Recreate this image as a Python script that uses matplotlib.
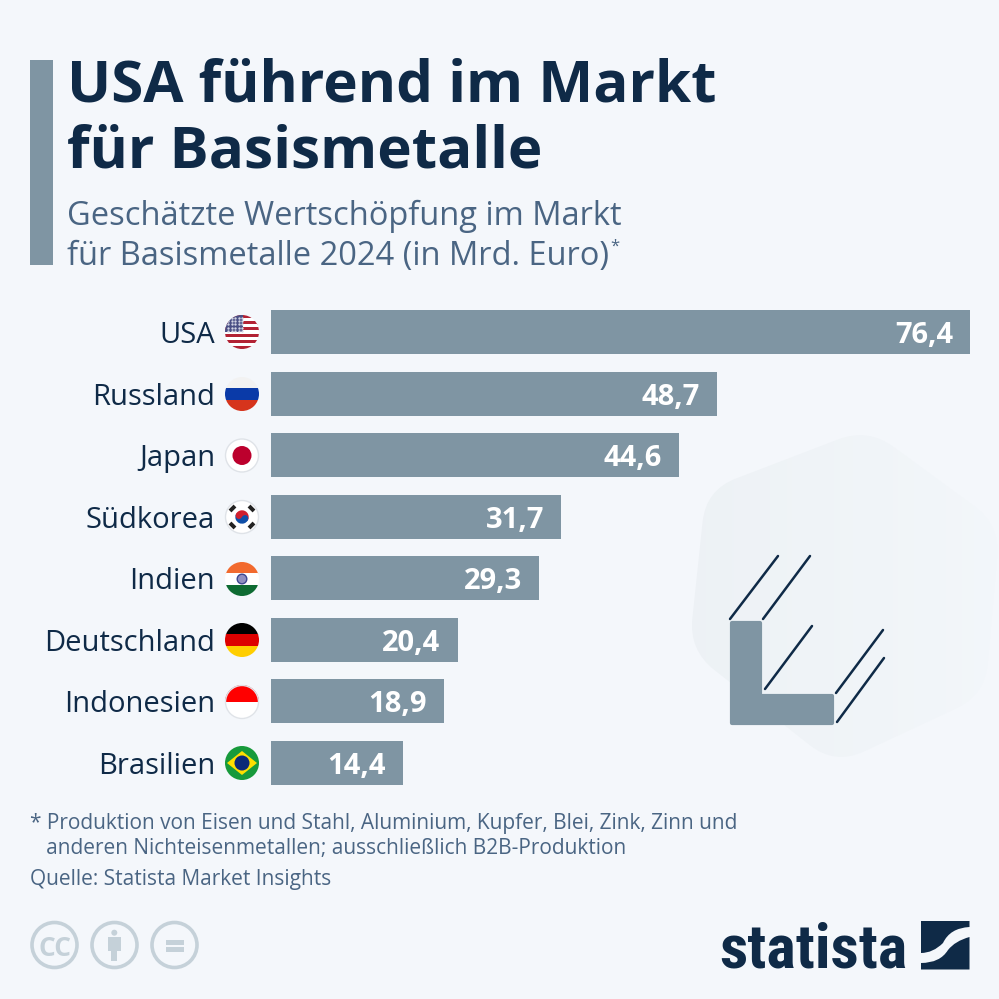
import matplotlib
matplotlib.use("Agg")
import matplotlib.pyplot as plt
import numpy as np
from matplotlib import font_manager
from matplotlib.patches import Circle, PathPatch, Polygon, Rectangle, Wedge
from matplotlib.path import Path

countries = ["USA", "Russland", "Japan", "Südkorea", "Indien", "Deutschland", "Indonesien", "Brasilien"]
values = [76.4, 48.7, 44.6, 31.7, 29.3, 20.4, 18.9, 14.4]

title_lines = ["USA führend im Markt", "für Basismetalle"]
subtitle_lines = ["Geschätzte Wertschöpfung im Markt", "für Basismetalle 2024 (in Mrd. Euro)"]
note_lines = ["* Produktion von Eisen und Stahl, Aluminium, Kupfer, Blei, Zink, Zinn und",
              "   anderen Nichteisenmetallen; ausschließlich B2B-Produktion"]
source = "Quelle: Statista Market Insights"

BG = "#f4f7fb"
BAR = "#7f95a3"
NAVY = "#0f2a47"
SUB = "#4a6583"
LIGHT = "#c5d1d9"
EDGE = "#dfe3e8"

plt.rcParams["font.family"] = ["Open Sans", "DejaVu Sans"]

fig = plt.figure(figsize=(9.99, 9.99), dpi=100, facecolor=BG)

# background layer in pixel coordinates
bg = fig.add_axes([0, 0, 1, 1])
bg.set_xlim(0, 999)
bg.set_ylim(999, 0)
bg.axis("off")


def rounded_polygon(points, radius):
    verts = []
    codes = []
    n = len(points)
    for i in range(n):
        p = np.array(points[i], dtype=float)
        a = np.array(points[i - 1], dtype=float)
        b = np.array(points[(i + 1) % n], dtype=float)
        p1 = p + (a - p) / np.linalg.norm(a - p) * radius
        p2 = p + (b - p) / np.linalg.norm(b - p) * radius
        verts.append(p1)
        codes.append(Path.MOVETO if i == 0 else Path.LINETO)
        verts.append(p)
        codes.append(Path.CURVE3)
        verts.append(p2)
        codes.append(Path.CURVE3)
    verts.append(verts[0])
    codes.append(Path.CLOSEPOLY)
    return Path(verts, codes)


# hexagon behind the icon, fades out to the right
hexagon = PathPatch(rounded_polygon([(868, 428), (706, 490), (689, 650), (835, 765), (985, 695), (1000, 525)], 32),
                    facecolor="none", edgecolor="none")
bg.add_patch(hexagon)
gradient = np.linspace(0, 1, 256).reshape(1, -1, 1)
start = np.array([0.93, 0.948, 0.962])
end = np.array([0.953, 0.967, 0.982])
bg.imshow(start + (end - start) * gradient, extent=(689, 1000, 765, 428), aspect="auto", clip_path=hexagon, zorder=1)
bg.set_xlim(0, 999)
bg.set_ylim(999, 0)

# title block
bg.add_patch(Rectangle((30, 60), 23, 205, color=BAR, lw=0))
for i, line in enumerate(title_lines):
    bg.text(67, 101.5 + i * 66, line, fontsize=42, fontweight="bold", color=NAVY, va="baseline")
for i, line in enumerate(subtitle_lines):
    bg.text(67, 225 + i * 40, line, fontsize=23.5, color=SUB, va="baseline")
bg.text(610, 251, "*", fontsize=12, color=SUB, va="baseline")

# icon
bg.add_patch(Polygon([(732, 623), (760, 623), (760, 696), (832, 696), (832, 723), (732, 723)],
                     facecolor=BAR, edgecolor=BAR, lw=3, joinstyle="round", zorder=2))
icon_lines = [((730, 619), (778, 556)), ((763, 619), (810, 556)), ((765, 689), (812, 626)),
              ((836, 693), (883, 630)), ((837, 722), (884, 658))]
for p, q in icon_lines:
    bg.plot([p[0], q[0]], [p[1], q[1]], color=NAVY, lw=1.8, solid_capstyle="round", zorder=2)

# bars
ax = fig.add_axes([271 / 999, 1 - 793.8 / 999, 699 / 999, 492.6 / 999], zorder=2)
ax.patch.set_visible(False)
y = np.arange(len(countries))
ax.barh(y, values, height=44 / 61.6, color=BAR)
ax.set_xlim(0, 76.4)
ax.set_ylim(7.5, -0.5)
ax.set_yticks(y)
ax.set_yticklabels(countries, fontsize=21, color=NAVY)
ax.tick_params(axis="y", length=0, pad=40.3)
ax.set_xticks([])
for side in ax.spines.values():
    side.set_visible(False)
for yi, v in zip(y, values):
    ax.annotate(f"{v:.1f}".replace(".", ","), (v, yi), xytext=(-12.3, 0), textcoords="offset points",
                ha="right", va="center_baseline", color="white", fontsize=21, fontweight="bold")


# flags, all clipped to a circle of radius 17 px
def flag_patch(patch, clip):
    bg.add_patch(patch)
    patch.set_clip_path(clip)


def stripes(cy, colors):
    clip = Circle((242, cy), 17, facecolor="none", edgecolor="none", transform=bg.transData)
    bg.add_patch(clip)
    h = 34 / len(colors)
    for i, c in enumerate(colors):
        flag_patch(Rectangle((225, cy - 17 + i * h), 34, h + 0.3, color=c, lw=0), clip)
    return clip


def ring(cy):
    bg.add_patch(Circle((242, cy), 16.5, facecolor="none", edgecolor=EDGE, lw=1))


flag_y = [332, 394, 455.5, 517, 579, 640, 702, 763]

# USA
clip = stripes(flag_y[0], ["#b22234" if i % 2 == 0 else "white" for i in range(11)])
flag_patch(Rectangle((225, flag_y[0] - 17), 18, 17, color="#4a4f85", lw=0), clip)
for sx in np.arange(228, 243, 3.5):
    for sy in np.arange(flag_y[0] - 14, flag_y[0], 3.2):
        star, = bg.plot(sx, sy, ".", color="#d5d8e6", ms=1.4, zorder=3)
        star.set_clip_path(clip)

# Russia
stripes(flag_y[1], ["#f2f2f2", "#0a3aa8", "#d6341c"])

# Japan
bg.add_patch(Circle((242, flag_y[2]), 16.5, facecolor="white", edgecolor=EDGE, lw=1))
bg.add_patch(Circle((242, flag_y[2]), 9.5, facecolor="#bc002d", lw=0))

# South Korea
cy = flag_y[3]
bg.add_patch(Circle((242, cy), 16.5, facecolor="white", edgecolor=EDGE, lw=1))
bg.add_patch(Wedge((242, cy), 6.7, 205, 385, facecolor="#d0202f", lw=0))
bg.add_patch(Wedge((242, cy), 6.7, 25, 205, facecolor="#0f4fa8", lw=0))
bg.add_patch(Circle((239, cy - 1.4), 3.3, facecolor="#d0202f", lw=0))
bg.add_patch(Circle((245, cy + 1.4), 3.3, facecolor="#0f4fa8", lw=0))
for dx, dy, angle in [(-9.5, -8.5, -45), (9.5, -8.5, 45), (-9.5, 8.5, 45), (9.5, 8.5, -45)]:
    bg.add_patch(Rectangle((242 + dx - 3.5, cy + dy - 2), 7, 4, angle=angle, rotation_point="center",
                           color="#222222", lw=0))

# India
clip = stripes(flag_y[4], ["#f26a2e", "white", "#0e6b32"])
bg.add_patch(Circle((242, flag_y[4]), 4.8, facecolor="#8f8fc0", edgecolor="#3d4690", lw=1))

# Germany
stripes(flag_y[5], ["#000000", "#dd0000", "#ffce00"])

# Indonesia
stripes(flag_y[6], ["#ff0000", "white"])
ring(flag_y[6])

# Brazil
cy = flag_y[7]
bg.add_patch(Circle((242, cy), 17, facecolor="#179a3b", lw=0))
bg.add_patch(Polygon([(227, cy), (242, cy - 12), (257, cy), (242, cy + 12)], facecolor="#fedf00", lw=0))
bg.add_patch(Circle((242, cy), 7.5, facecolor="#0b2a78", lw=0))

# footer
for i, line in enumerate(note_lines):
    bg.text(30, 828.5 + i * 25.5, line, fontsize=15, color=SUB, va="baseline")
bg.text(30, 885, source, fontsize=15, color=SUB, va="baseline")

# cc icons
for cx in [54.5, 114.5, 174.5]:
    bg.add_patch(Circle((cx, 945), 22.5, facecolor="none", edgecolor=LIGHT, lw=2.6))
bg.text(54.5, 945.5, "CC", fontsize=19, fontweight="bold", color=LIGHT, ha="center", va="center_baseline")
bg.add_patch(Circle((114.3, 932.7), 3, color=LIGHT, lw=0))
bg.add_patch(Polygon([(107.7, 937), (120.8, 937), (120.8, 950.7), (117.3, 950.7), (117.3, 961), (111, 961),
                      (111, 950.7), (107.7, 950.7)], color=LIGHT, lw=0))
bg.add_patch(Rectangle((166, 940), 18, 5, color=LIGHT, lw=0))
bg.add_patch(Rectangle((166, 947), 18, 5, color=LIGHT, lw=0))

# logo, pick a narrow face if there is one and fit the word to its width
installed = {f.name for f in font_manager.fontManager.ttflist}
logo_font = dict(family="DejaVu Sans", stretch="condensed")
for name in ["Liberation Sans Narrow", "Roboto Condensed", "Open Sans Condensed", "Noto Sans Condensed"]:
    if name in installed:
        logo_font = dict(family=name)
        break
logo = bg.text(719.5, 968, "statista", fontsize=40, fontweight="bold", color=NAVY, va="baseline", **logo_font)
logo_width = logo.get_window_extent(fig.canvas.get_renderer()).width
logo.set_fontsize(40 * 188 / logo_width)

upper = Path([(921, 921), (969.5, 921), (969.5, 927), (950, 928), (943, 943), (933, 953), (921, 953), (921, 921)],
             [Path.MOVETO, Path.LINETO, Path.LINETO, Path.CURVE3, Path.CURVE3, Path.CURVE3, Path.CURVE3, Path.CLOSEPOLY])
lower = Path([(969.5, 937), (969.5, 969.5), (921, 969.5), (921, 963), (940, 963), (948, 950), (955, 941), (969.5, 937)],
             [Path.MOVETO, Path.LINETO, Path.LINETO, Path.LINETO, Path.CURVE3, Path.CURVE3, Path.CURVE3, Path.CLOSEPOLY])
bg.add_patch(PathPatch(upper, facecolor=NAVY, lw=0))
bg.add_patch(PathPatch(lower, facecolor=NAVY, lw=0))

fig.savefig("out.png", dpi=100, facecolor=BG)
